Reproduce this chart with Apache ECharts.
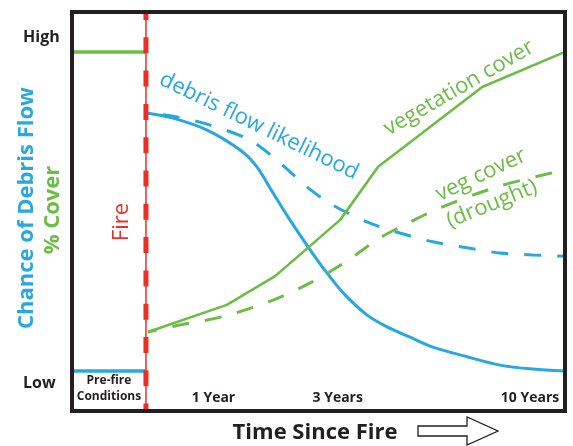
<!DOCTYPE html>
<html>
<head>
<meta charset="utf-8">
<script src="https://cdn.jsdelivr.net/npm/echarts@6/dist/echarts.min.js"></script>
<style>
html,body{margin:0;padding:0;background:#fff;}
#chart{width:573px;height:446px;}
</style>
</head>
<body>
<div id="chart"></div>
<script>
// x: 0 = left edge of plot, 100 = right edge; y: 0 = bottom, 100 = top
const fireX = 15.0;
const preFireVeg = [[0, 90], [15.0, 90]];
const preFireDebris = [[0, 10], [15.0, 10]];
const debrisFlow = [[15.2,74.7],[20.5,73.4],[27.4,70.4],[34.1,65.4],[37.5,61.2],[40.8,54.6],[44.2,47.9],[48.3,40.4],[51.7,34.6],[55.0,29.6],[59.8,24.1],[63.9,21.1],[68.6,18.5],[73.2,16.0],[80.1,13.6],[86.8,11.5],[93.5,10.5],[100,10.0]];
const debrisFlowDrought = [[15.2,74.7],[20.5,73.9],[27.4,71.9],[36.1,67.9],[42.2,62.2],[47.7,56.1],[52.9,51.6],[59.8,47.4],[66.5,44.6],[73.2,42.4],[80.1,40.9],[86.8,39.6],[93.5,39.1],[100,38.8]];
const vegCover = [[15.4,19.8],[31.4,26.6],[41.2,33.8],[54.4,47.9],[62.1,61.2],[83.2,81.2],[100,90.0]];
const vegCoverDrought = [[15.4,19.8],[20.9,21.3],[31.0,23.8],[40.8,27.8],[48.3,32.1],[55.4,37.3],[62.5,43.4],[68.2,47.1],[74.6,50.9],[86.8,56.4],[100,60.4]];
const xTickValues = [7.5, 28.7, 53.9, 92.9];
const xTickLabels = ['Pre-fire\nConditions', '1 Year', '3 Years', '10 Years'];
const yTickValues = [7.0, 93.5];
const yTickLabels = ['Low', 'High'];

const BLUE = '#27a8e0';
const GREEN = '#6cbd45';
const RED = '#ee2e24';
const DARK = '#231f20';
const FONT = '"Open Sans", "Noto Sans", sans-serif';

const chart = echarts.init(document.getElementById('chart'), null, {renderer: 'canvas'});
chart.setOption({
  animation: false,
  backgroundColor: '#fff',
  grid: {left: 72, top: 12, right: 8, bottom: 35, show: true, borderColor: DARK, borderWidth: 4, backgroundColor: 'transparent', z: 10},
  xAxis: {
    type: 'value', min: 0, max: 100,
    axisLine: {show: false}, axisTick: {show: false}, splitLine: {show: false},
    axisLabel: {
      inside: true, margin: 6, customValues: xTickValues,
      formatter: function (v, i) {
        const idx = xTickValues.findIndex(t => Math.abs(t - v) < 0.01);
        const lab = xTickLabels[idx >= 0 ? idx : i];
        if (lab.indexOf('\n') >= 0) return lab.split('\n').map(s => '{s|' + s + '}').join('\n');
        return '{b|' + lab + '}';
      },
      rich: {
        s: {fontFamily: FONT, fontWeight: 'bold', fontSize: 12, lineHeight: 16, color: DARK},
        b: {fontFamily: FONT, fontWeight: 'bold', fontSize: 14, color: DARK}
      }
    }
  },
  yAxis: {
    type: 'value', min: 0, max: 100,
    axisLine: {show: false}, axisTick: {show: false}, splitLine: {show: false},
    axisLabel: {
      margin: 49, align: 'left', customValues: yTickValues,
      formatter: function (v, i) {
        const idx = yTickValues.findIndex(t => Math.abs(t - v) < 0.01);
        return yTickLabels[idx >= 0 ? idx : i];
      },
      fontFamily: FONT, fontWeight: 'bold', fontSize: 16, color: DARK
    }
  },
  series: [
    {type: 'line', data: [[fireX, 0], [fireX, 100]], symbol: 'none', lineStyle: {color: RED, width: 1.5}, z: 3},
    {type: 'line', data: [[fireX, 100], [fireX, 0]], symbol: 'none', lineStyle: {color: RED, width: 5, type: [16, 17.3], dashOffset: 8}, z: 3},
    {type: 'line', data: preFireVeg, symbol: 'none', lineStyle: {color: GREEN, width: 3.5}, z: 2},
    {type: 'line', data: preFireDebris, symbol: 'none', lineStyle: {color: BLUE, width: 3.5}, z: 2},
    {type: 'line', data: debrisFlow, symbol: 'none', smooth: 0.3, lineStyle: {color: BLUE, width: 3}, z: 2},
    {type: 'line', data: debrisFlowDrought, symbol: 'none', smooth: 0.3, lineStyle: {color: BLUE, width: 3, type: [17, 16], dashOffset: 17}, z: 2},
    {type: 'line', data: vegCover, symbol: 'none', lineStyle: {color: GREEN, width: 2.6}, z: 2},
    {type: 'line', data: vegCoverDrought, symbol: 'none', smooth: 0.3, lineStyle: {color: GREEN, width: 3, type: [17, 16], dashOffset: 8}, z: 2}
  ],
  graphic: [
    {type: 'text', x: 27, y: 208, rotation: Math.PI / 2, style: {text: 'Chance of Debris Flow', fill: BLUE, font: 'bold 22px ' + FONT, textAlign: 'center', textVerticalAlign: 'middle'}},
    {type: 'text', x: 53, y: 210, rotation: Math.PI / 2, style: {text: '% Cover', fill: GREEN, font: 'bold 22px ' + FONT, textAlign: 'center', textVerticalAlign: 'middle'}},
    {type: 'text', x: 122, y: 222, rotation: Math.PI / 2, style: {text: 'Fire', fill: RED, font: '22px ' + FONT, textAlign: 'center', textVerticalAlign: 'middle'}},
    {type: 'text', x: 259, y: 126, rotation: -26 * Math.PI / 180, style: {text: 'debris flow likelihood', fill: BLUE, font: '22px ' + FONT, textAlign: 'center', textVerticalAlign: 'middle'}},
    {type: 'text', x: 459, y: 88, rotation: 30 * Math.PI / 180, style: {text: 'vegetation cover', fill: GREEN, font: '22px ' + FONT, textAlign: 'center', textVerticalAlign: 'middle'}},
    {type: 'text', x: 481, y: 175, rotation: 25 * Math.PI / 180, style: {text: 'veg cover', fill: GREEN, font: '22px ' + FONT, textAlign: 'center', textVerticalAlign: 'middle'}},
    {type: 'text', x: 492, y: 204, rotation: 22 * Math.PI / 180, style: {text: '(drought)', fill: GREEN, font: '22px ' + FONT, textAlign: 'center', textVerticalAlign: 'middle'}},
    {type: 'text', x: 315, y: 433, style: {text: 'Time Since Fire', fill: DARK, font: 'bold 22px ' + FONT, textAlign: 'center', textVerticalAlign: 'middle'}},
    {type: 'polygon', shape: {points: [[418,426],[467,426],[467,417],[498,431],[467,445],[467,436],[418,436]]}, style: {fill: '#fff', stroke: DARK, lineWidth: 1.3}}
  ]
});
</script>
</body>
</html>
